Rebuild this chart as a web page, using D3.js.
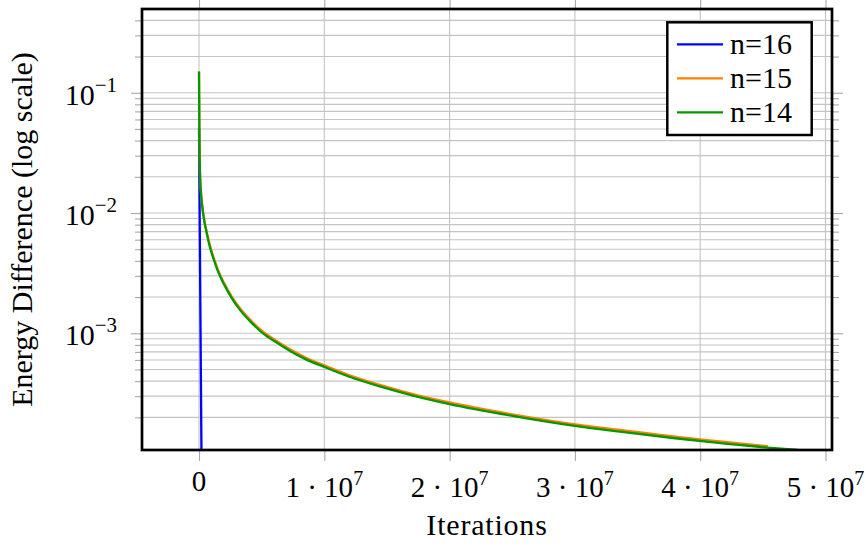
<!DOCTYPE html>
<html>
<head>
<meta charset="utf-8">
<script src="https://cdn.jsdelivr.net/npm/d3@7"></script>
<style>
  body { margin: 0; background: #fff; }
  text { font-family: "Liberation Serif", "Times New Roman", serif; fill: #000; }
</style>
</head>
<body>
<svg id="chart" width="866" height="546"></svg>
<script>
// values
const seriesNames = ['n=16', 'n=15', 'n=14']
const seriesColors = ['#0000ff', '#ff8000', '#009900']

const n16 = [[0, 0.051], [2.0e5, 9e-5]]

const n15 = [
  [0, 0.15], [3e4, 0.046], [8e4, 0.0215], [1.5e5, 0.0154], [2.5e5, 0.0118],
  [4e5, 0.0090], [6e5, 0.0071], [8.5e5, 0.0055], [1.15e6, 0.0043], [1.5e6, 0.0034],
  [1.95e6, 0.00268], [2.6e6, 0.00203], [3.3e6, 0.0016], [4.2e6, 0.00126], [5.1e6, 0.00103],
  [6.1e6, 0.000875], [7.3e6, 0.000732], [8.5e6, 0.000629], [9.9e6, 0.000546], [1.2e7, 0.000448],
  [1.45e7, 0.000371], [1.7e7, 0.000314], [2.0e7, 0.000266], [2.5e7, 0.000212], [3.0e7, 0.000175],
  [3.36e7, 0.000157], [3.8e7, 0.000138], [4.2e7, 0.000125], [4.54e7, 0.000115]
]

const n14 = [
  [0, 0.15], [3e4, 0.045], [8e4, 0.021], [1.5e5, 0.015], [2.5e5, 0.0115],
  [4e5, 0.0088], [6e5, 0.0069], [8.5e5, 0.0053], [1.15e6, 0.0042], [1.5e6, 0.0033],
  [1.95e6, 0.0026], [2.6e6, 0.00197], [3.3e6, 0.00155], [4.2e6, 0.00122], [5.1e6, 0.001],
  [6.1e6, 0.00085], [7.3e6, 0.00071], [8.5e6, 0.00061], [9.9e6, 0.00053], [1.2e7, 0.000435],
  [1.45e7, 0.00036], [1.7e7, 0.000305], [2.0e7, 0.000258], [2.5e7, 0.000206], [3.0e7, 0.00017],
  [3.36e7, 0.000152], [3.8e7, 0.000134], [4.2e7, 0.000121], [4.54e7, 0.000112], [4.78e7, 0.000107]
]

const xTicks = [0, 1e7, 2e7, 3e7, 4e7, 5e7]
const xTickMantissa = ['0', '1', '2', '3', '4', '5']
const yTicks = [1e-1, 1e-2, 1e-3]
const yTickExp = ['−1', '−2', '−3']

const mLeft = 142, mRight = 832, mTop = 9, mBottom = 450
const W = mRight - mLeft, H = mBottom - mTop

const svg = d3.select('#chart')

let xScale = d3.scaleLinear().domain([-4.55e6, 5.052e7]).range([mLeft, mRight])
let yScale = d3.scaleLog().domain([1.07e-4, 0.497]).range([mBottom, mTop])

// minor log ticks 2..9 per decade inside the domain
let yMinor = []
for (let e = -4; e <= -1; e++) {
  for (let m = 2; m <= 9; m++) {
    let v = m * Math.pow(10, e)
    if (v >= 1.07e-4 && v <= 0.497) yMinor.push(v)
  }
}

const gridColor = '#c4c4c4'
const tickColor = '#a8a8a8'

// grid
let grid = svg.append('g')
grid.selectAll('line.hy').data(yMinor.concat(yTicks)).enter()
  .append('line')
  .attr('x1', mLeft).attr('x2', mRight)
  .attr('y1', d => yScale(d)).attr('y2', d => yScale(d))
  .style('stroke', gridColor).style('stroke-width', 1.1)
grid.selectAll('line.vx').data(xTicks).enter()
  .append('line')
  .attr('y1', mTop).attr('y2', mBottom)
  .attr('x1', d => xScale(d)).attr('x2', d => xScale(d))
  .style('stroke', gridColor).style('stroke-width', 1.1)

// outside ticks on all four sides
function styleTicks (g) {
  g.select('.domain').remove()
  g.selectAll('line').style('stroke', tickColor).style('stroke-width', 1.1)
}
let fmt = () => ''
svg.append('g').attr('transform', `translate(0,${mBottom})`)
  .call(d3.axisBottom(xScale).tickValues(xTicks).tickSize(11).tickFormat(fmt)).call(styleTicks)
svg.append('g').attr('transform', `translate(0,${mTop})`)
  .call(d3.axisTop(xScale).tickValues(xTicks).tickSize(11).tickFormat(fmt)).call(styleTicks)
svg.append('g').attr('transform', `translate(${mLeft},0)`)
  .call(d3.axisLeft(yScale).tickValues(yTicks).tickSize(11).tickFormat(fmt)).call(styleTicks)
svg.append('g').attr('transform', `translate(${mLeft},0)`)
  .call(d3.axisLeft(yScale).tickValues(yMinor).tickSize(7).tickFormat(fmt)).call(styleTicks)
svg.append('g').attr('transform', `translate(${mRight},0)`)
  .call(d3.axisRight(yScale).tickValues(yTicks).tickSize(11).tickFormat(fmt)).call(styleTicks)
svg.append('g').attr('transform', `translate(${mRight},0)`)
  .call(d3.axisRight(yScale).tickValues(yMinor).tickSize(7).tickFormat(fmt)).call(styleTicks)

// lines
svg.append('clipPath').attr('id', 'plotclip')
  .append('rect').attr('x', mLeft).attr('y', mTop).attr('width', W).attr('height', H)

let line = d3.line()
  .x(d => xScale(d[0]))
  .y(d => yScale(d[1]))
  .curve(d3.curveMonotoneX)

let plot = svg.append('g').attr('clip-path', 'url(#plotclip)')
;[n16, n15, n14].forEach((s, i) => {
  plot.append('path')
    .datum(s)
    .attr('d', line)
    .style('fill', 'none')
    .style('stroke', seriesColors[i])
    .style('stroke-width', 2.3)
    .style('stroke-linejoin', 'round')
})

// frame
svg.append('rect')
  .attr('x', mLeft).attr('y', mTop).attr('width', W).attr('height', H)
  .style('fill', 'none').style('stroke', '#000').style('stroke-width', 2.7)

// x tick labels
xTicks.forEach((v, i) => {
  let t = svg.append('text')
    .attr('x', xScale(v))
    .attr('text-anchor', 'middle')
    .style('font-size', '29px')
  if (v === 0) {
    t.attr('y', 491).text(xTickMantissa[i])
  } else {
    t.attr('y', 497)
    t.append('tspan').text(xTickMantissa[i] + ' · 10')
    t.append('tspan').attr('dy', -12).style('font-size', '20px').text('7')
  }
})

// y tick labels
yTicks.forEach((v, i) => {
  let t = svg.append('text')
    .attr('x', 117)
    .attr('y', yScale(v) + 12)
    .attr('text-anchor', 'end')
    .style('font-size', '30px')
  t.append('tspan').text('10')
  t.append('tspan').attr('dy', -13).style('font-size', '21px').text(yTickExp[i])
})

// axis titles
svg.append('text')
  .attr('x', (mLeft + mRight) / 2).attr('y', 535)
  .attr('text-anchor', 'middle')
  .style('font-size', '30px')
  .style('letter-spacing', '0.8px')
  .text('Iterations')

svg.append('text')
  .attr('transform', `translate(32,${(mTop + mBottom) / 2}) rotate(-90)`)
  .attr('text-anchor', 'middle')
  .style('font-size', '30px')
  .text('Energy Difference (log scale)')

// legend
let legend = svg.append('g')
legend.append('rect')
  .attr('x', 667.3).attr('y', 22.3).attr('width', 144.4).attr('height', 112.7)
  .style('fill', '#fff').style('stroke', '#000').style('stroke-width', 2.5)
seriesNames.forEach((name, i) => {
  let ly = 44.3 + i * 34
  legend.append('line')
    .attr('x1', 677).attr('x2', 723).attr('y1', ly).attr('y2', ly)
    .style('stroke', seriesColors[i]).style('stroke-width', 2.3)
  legend.append('text')
    .attr('x', 730).attr('y', ly + 10)
    .style('font-size', '30px')
    .text(name)
})
</script>
</body>
</html>
